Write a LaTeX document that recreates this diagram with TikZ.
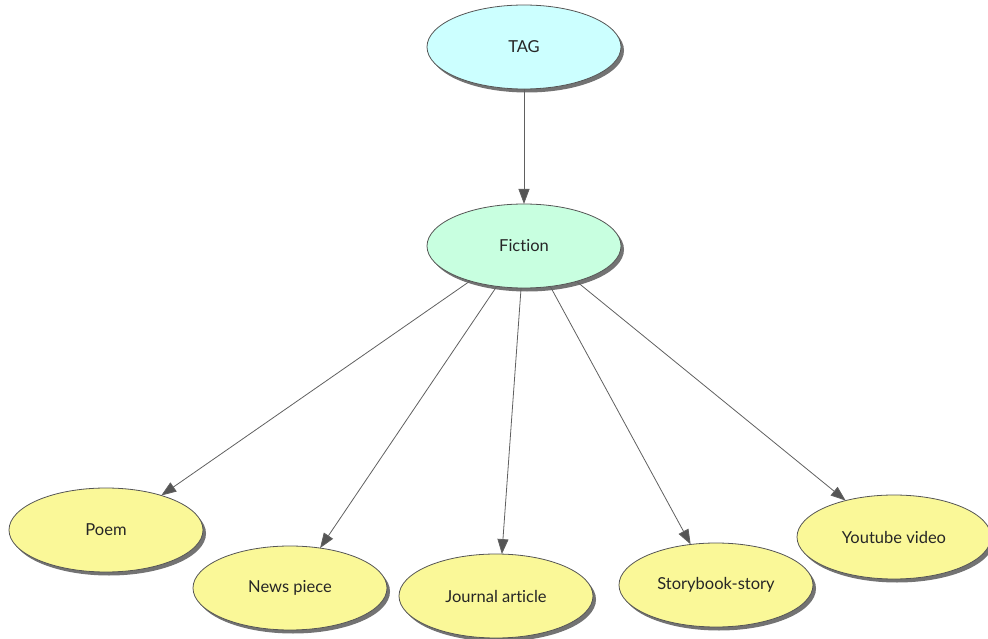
\documentclass[tikz,border=0pt]{standalone}
\usepackage{fontspec}
\setmainfont{Lato}[Ligatures=NoCommon]
\usetikzlibrary{arrows.meta,shadows,shapes.geometric}
\definecolor{tagfill}{HTML}{CCFFFF}
\definecolor{ficfill}{HTML}{C8FFE0}
\definecolor{leaffill}{HTML}{FAF898}
\definecolor{edge}{HTML}{555555}
\definecolor{linec}{HTML}{606060}
\tikzset{
  concept/.style={ellipse, draw=edge, line width=0.8pt, minimum width=194pt, minimum height=84pt,
    inner sep=0pt, outer sep=0pt, font=\fontsize{16.5}{18}\selectfont, text=black!85,
    drop shadow={shadow xshift=3pt, shadow yshift=-3.5pt, fill=black!55, opacity=1}},
  link/.style={draw=linec, line width=0.8pt, -{Triangle[length=15pt,width=11pt,fill=edge]}}
}
\begin{document}
\begin{tikzpicture}[x=1pt,y=-1pt]
\useasboundingbox (0,0) rectangle (988,639);
\node[concept, fill=tagfill] (tag) at (524,47) {TAG};
\node[concept, fill=ficfill] (fic) at (524,246) {Fiction};
\node[concept, fill=leaffill] (poem) at (106,530) {Poem};
\node[concept, fill=leaffill] (news) at (290,588) {News piece};
\node[concept, fill=leaffill] (jour) at (496,596) {Journal article};
\node[concept, fill=leaffill] (story) at (716,585) {Storybook-story};
\node[concept, fill=leaffill] (yt) at (894,537) {Youtube video};
\draw[link] (tag.south) -- (fic.north);
\draw[link] (fic.213) -- (poem.32);
\draw[link] (fic.236) -- (news.53);
\draw[link] (fic.266) -- (jour.82);
\draw[link] (fic.303) -- (story.122);
\draw[link] (fic.326) -- (yt.143);
\end{tikzpicture}
\end{document}
